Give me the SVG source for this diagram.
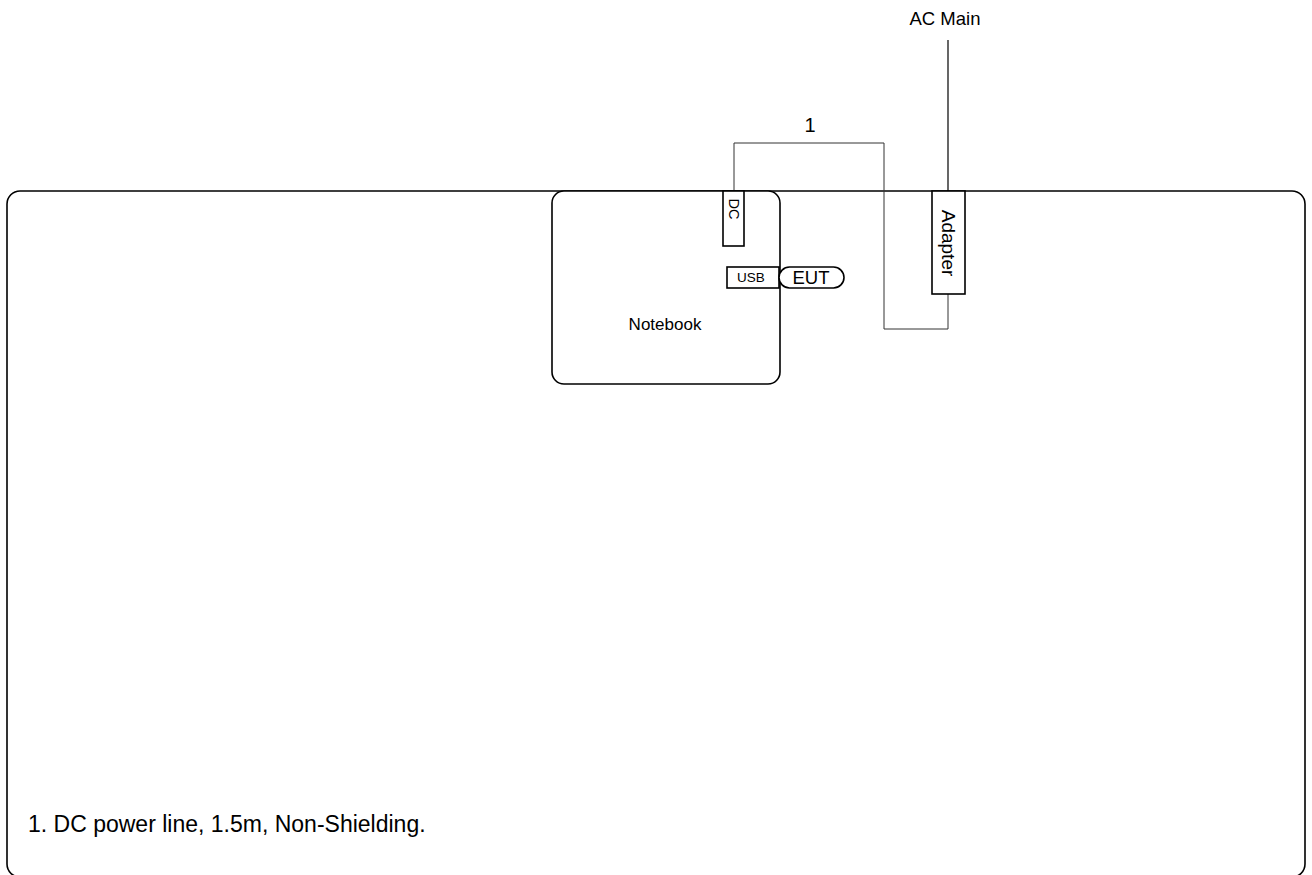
<svg xmlns="http://www.w3.org/2000/svg" width="1312" height="875" viewBox="0 0 1312 875">
<style>
.box{fill:#fff;stroke:#000;stroke-width:1.6}
.line{fill:none;stroke:#000;stroke-width:1.2}
.cable{fill:none;stroke:#333;stroke-width:1}
text{font-family:"Liberation Sans",Arial,sans-serif;fill:#000}
</style>
<rect width="1312" height="875" fill="#fff"/>
<g id="table"><rect class="box" x="7" y="191" width="1298" height="686" rx="13"/></g>
<g id="connectors">
<polyline class="cable" points="734,191 734,143 884,143 884,329 948,329 948,294"/>
<line class="line" x1="948" y1="40" x2="948" y2="191"/>
</g>
<g id="notebook">
<rect class="box" x="552" y="191" width="228" height="193" rx="12"/>
<text x="665" y="330" font-size="17" text-anchor="middle">Notebook</text>
</g>
<g id="dc">
<rect class="box" x="723" y="191" width="21" height="55"/>
<text transform="translate(729,209) rotate(90)" font-size="14.5" text-anchor="middle">DC</text>
</g>
<g id="usb">
<rect class="box" x="727" y="267" width="52" height="21"/>
<text x="751" y="282" font-size="13.5" text-anchor="middle">USB</text>
</g>
<g id="eut">
<rect class="box" x="779" y="267" width="65" height="21" rx="10.5"/>
<text x="811" y="284" font-size="18.5" text-anchor="middle">EUT</text>
</g>
<g id="adapter">
<rect class="box" x="932" y="191" width="33" height="103"/>
<text transform="translate(942,243) rotate(90)" font-size="19" text-anchor="middle">Adapter</text>
</g>
<g id="labels">
<text x="945" y="25" font-size="18.5" text-anchor="middle">AC Main</text>
<text x="810" y="132" font-size="20" text-anchor="middle">1</text>
<text x="28" y="832" font-size="23">1. DC power line, 1.5m, Non-Shielding.</text>
</g>
</svg>
